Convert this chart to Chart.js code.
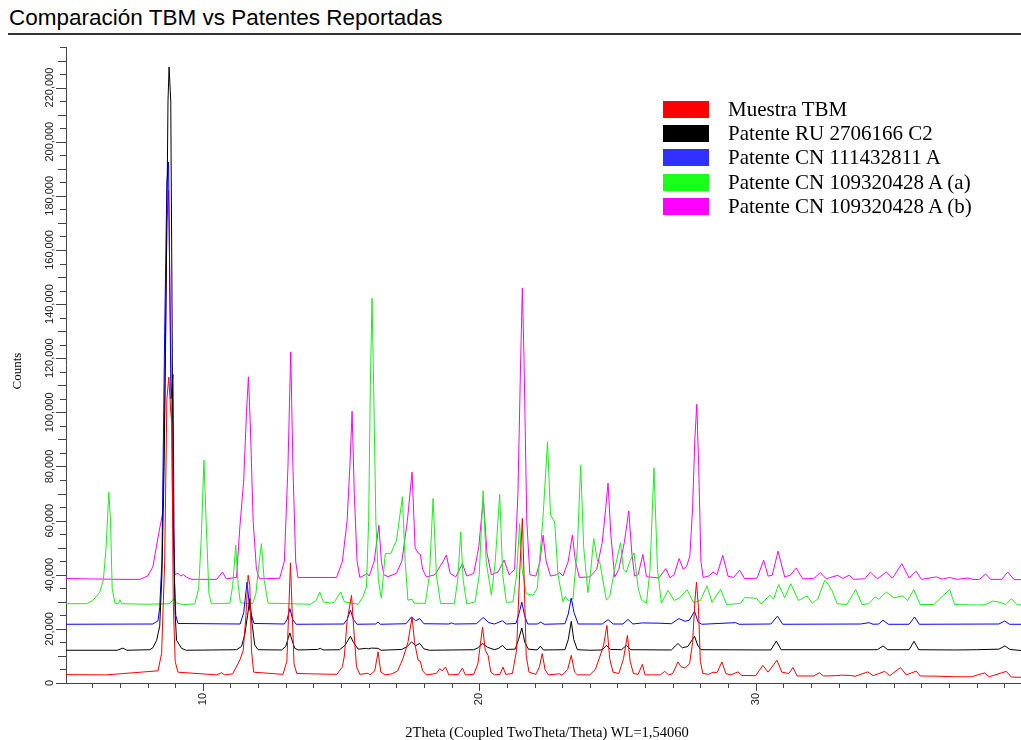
<!DOCTYPE html>
<html lang="es">
<head>
<meta charset="utf-8">
<title>Comparación TBM vs Patentes Reportadas</title>
<script src="https://cdn.jsdelivr.net/npm/chart.js@4.4.1/dist/chart.umd.min.js"></script>
<style>
  body { margin: 0; background: #fff; }
  #contenedor { position: relative; width: 1021px; height: 740px; overflow: hidden; }
  #titulo { position: absolute; left: 9px; top: 6px; font: 22.5px "Liberation Sans", Arial, sans-serif; line-height: 24px; color: #000; white-space: nowrap; }
  #linea { position: absolute; left: 8px; right: 0; top: 33px; height: 2px; background: #333; }
  canvas { position: absolute; left: 0; top: 0; }
  #leyenda { position: absolute; left: 663px; top: 97px; font: 21px "Liberation Serif", "Times New Roman", serif; color: #000; }
  .fila { display: flex; align-items: center; height: 24.4px; white-space: nowrap; }
  .caja { width: 46px; height: 17px; margin-right: 19px; }
</style>
</head>
<body>
<div id="contenedor">
  <div id="titulo">Comparación TBM vs Patentes Reportadas</div>
  <div id="linea"></div>
  <canvas id="grafico" width="1021" height="740"></canvas>
  <div id="leyenda"></div>
</div>
<script>
// Nombres de las series (orden de la leyenda)
const nombres = ['Muestra TBM', 'Patente RU 2706166 C2', 'Patente CN 111432811 A', 'Patente CN 109320428 A (a)', 'Patente CN 109320428 A (b)'];

// Ticks de los ejes
const etiquetasX = [10, 20, 30];
const etiquetasY = [0, 20000, 40000, 60000, 80000, 100000, 120000, 140000, 160000, 180000, 200000, 220000];

// Difractogramas [2Theta, Counts]
const muestraTBM = [
  [5.05, 3100], [6.5, 3000], [8.38, 4500], [8.51, 11000], [8.62, 45000], [8.70, 105000], [8.77, 113000], [8.84, 100000], [8.88, 96000], [8.93, 30000], [9.00, 8000], [9.10, 4000],
  [10.5, 3000], [10.68, 3800], [10.78, 3000],
  [11.08, 3400], [11.34, 8500], [11.46, 12000], [11.56, 25000], [11.64, 39800], [11.70, 36000], [11.76, 12000], [11.84, 4000],
  [12.9, 3200], [13.04, 8000], [13.12, 30000], [13.17, 44400], [13.22, 30000], [13.30, 7000], [13.40, 3500],
  [14.85, 3200], [15.05, 6000], [15.12, 10000], [15.22, 23000], [15.38, 32400], [15.46, 20000], [15.56, 6000], [15.68, 3200],
  [15.98, 3600], [16.05, 3000], [16.22, 4500], [16.34, 11500], [16.44, 4000],
  [16.60, 3000], [16.85, 3400], [17.05, 4500], [17.24, 9000], [17.42, 15000], [17.57, 24400], [17.66, 15000], [17.79, 8400], [17.87, 8000], [17.95, 4500], [18.09, 3000],
  [18.45, 3500], [18.57, 5300], [18.66, 4500], [18.78, 5900], [18.90, 3000],
  [19.25, 3200], [19.39, 5500], [19.50, 3000],
  [19.80, 3200], [19.95, 7000], [20.12, 20700], [20.22, 12000], [20.32, 10200], [20.42, 4000], [20.55, 3000],
  [20.75, 3200], [20.86, 5900], [20.96, 3200],
  [21.20, 3500], [21.35, 12000], [21.46, 40000], [21.56, 60800], [21.62, 40000], [21.70, 10000], [21.80, 4000],
  [22.05, 3200], [22.18, 6000], [22.28, 10900], [22.38, 5000], [22.50, 3000],
  [22.90, 3400], [23.00, 2900], [23.20, 5000], [23.33, 10200], [23.45, 4000], [23.55, 3000],
  [24.00, 3000], [24.20, 5000], [24.36, 9600], [24.50, 14000], [24.62, 21300], [24.72, 9000], [24.84, 4000],
  [25.05, 3500], [25.22, 9000], [25.36, 17600], [25.46, 8000], [25.58, 3500],
  [25.75, 3200], [25.90, 6900], [26.00, 3000],
  [26.55, 3000], [26.71, 4300], [26.85, 3000],
  [27.00, 3500], [27.19, 7800], [27.30, 6000], [27.45, 5500], [27.61, 7200], [27.72, 15000], [27.80, 30000], [27.86, 37300], [27.93, 28000], [28.00, 8000], [28.09, 3500],
  [28.30, 3200], [28.46, 4000], [28.60, 3800], [28.78, 7800], [28.92, 3500], [29.10, 3000],
  [29.36, 4100], [29.50, 2800],
  [30.00, 2700], [30.26, 6500], [30.45, 4000], [30.77, 8400], [30.95, 4000], [31.20, 3500], [31.35, 5700], [31.50, 2600],
  [32.10, 2600], [32.31, 3800], [32.45, 2600],
  [32.90, 2700], [33.10, 2900], [33.40, 2800], [33.60, 2500],
  [34.06, 4100], [34.25, 2700], [34.67, 4300], [34.85, 2700], [35.24, 5700], [35.45, 3000], [35.81, 4400], [35.95, 2600],
  [36.60, 2500], [37.20, 2300], [37.80, 2300], [38.28, 3700], [38.45, 2300], [39.07, 4300], [39.25, 2200], [39.60, 2100]
];

const patenteRU = [
  [5.05, 12100], [6.90, 12100], [7.11, 12900], [7.25, 12100],
  [8.08, 12300], [8.19, 13000], [8.33, 15800], [8.44, 21000], [8.52, 40000], [8.60, 80000], [8.68, 150000], [8.74, 215000], [8.78, 227600], [8.84, 215000], [8.88, 150000], [8.93, 60000], [9.00, 25000], [9.05, 15800], [9.23, 12800], [9.40, 12100],
  [11.22, 12300], [11.40, 13500], [11.52, 18000], [11.62, 25000], [11.70, 31200], [11.78, 22000], [11.88, 14000], [12.00, 12300],
  [12.85, 12200], [13.00, 13500], [13.10, 17000], [13.15, 18500], [13.22, 16000], [13.33, 12800], [13.45, 12200],
  [14.15, 12400], [14.25, 12800], [14.35, 12200],
  [14.95, 12300], [15.15, 14000], [15.34, 17300], [15.45, 15000], [15.62, 12500],
  [15.92, 12800], [15.98, 12600], [16.10, 12900], [16.34, 12800], [16.45, 12100],
  [17.20, 12400], [17.40, 13500], [17.55, 15200], [17.70, 13800], [17.85, 14600], [18.00, 12600], [18.20, 12100],
  [19.80, 12300], [19.95, 13000], [20.12, 14600], [20.30, 13200], [20.55, 12300], [20.70, 12800], [20.84, 13900], [20.98, 12400],
  [21.30, 12500], [21.42, 16000], [21.54, 20300], [21.65, 15000], [21.78, 12500],
  [22.10, 12200], [22.21, 13600], [22.32, 12200],
  [23.10, 12300], [23.22, 16000], [23.33, 22800], [23.42, 16000], [23.55, 12300],
  [24.00, 12100], [24.45, 12200], [24.60, 13900], [24.75, 12400], [25.15, 12300], [25.32, 13900], [25.48, 12300],
  [26.95, 12200], [27.19, 14600], [27.35, 13000], [27.55, 13500], [27.79, 17300], [27.90, 14000], [28.02, 12300],
  [30.55, 12200], [30.75, 15500], [30.92, 12300],
  [34.40, 12300], [34.61, 13700], [34.78, 12300], [35.55, 12300], [35.73, 15400], [35.90, 12300],
  [37.20, 12200], [38.00, 12300], [38.80, 12500], [39.02, 13700], [39.20, 12400], [39.60, 12000]
];

const patenteCN111 = [
  [5.05, 21700], [8.19, 21800], [8.38, 23000], [8.44, 28000], [8.52, 45000], [8.62, 130000], [8.70, 185000], [8.76, 192500], [8.81, 140000], [8.85, 105000], [8.92, 114000], [8.97, 40000], [9.02, 25000], [9.10, 22000],
  [11.35, 21800], [11.48, 26000], [11.60, 37300], [11.70, 27000], [11.85, 22000],
  [12.95, 21800], [13.05, 23500], [13.15, 27500], [13.25, 23500], [13.38, 21700],
  [15.10, 21800], [15.22, 23500], [15.34, 26900], [15.45, 23500], [15.58, 21700],
  [16.25, 21800], [16.34, 22500], [16.42, 21700],
  [17.35, 21900], [17.55, 24400], [17.70, 23000], [17.85, 23800], [18.00, 21900],
  [18.90, 21800], [19.00, 22200], [19.10, 21800],
  [19.90, 21900], [20.14, 24200], [20.35, 22300], [20.55, 21800], [20.84, 23000], [20.98, 21800],
  [21.33, 22000], [21.45, 26000], [21.54, 29900], [21.64, 25000], [21.75, 21800],
  [22.10, 21800], [22.22, 22500], [22.35, 21700],
  [23.10, 21900], [23.22, 25500], [23.33, 31400], [23.43, 26000], [23.58, 21800],
  [24.45, 21800], [24.66, 23400], [24.85, 21800], [25.20, 21800], [25.38, 23500], [25.56, 21800], [25.90, 22200], [26.50, 22100],
  [26.95, 21900], [27.22, 23800], [27.45, 22800], [27.60, 23200], [27.79, 26500], [27.92, 22500], [28.05, 21700],
  [29.28, 22300], [29.40, 21700],
  [30.55, 21800], [30.79, 24700], [30.98, 21700],
  [33.80, 21800], [34.10, 22300], [34.25, 21700], [34.45, 21800], [34.61, 23200], [34.80, 21700],
  [35.55, 21700], [35.75, 24400], [35.92, 21700],
  [38.80, 21800], [39.01, 22900], [39.18, 21700], [39.60, 21700]
];

const patenteCN109a = [
  [5.05, 29300], [5.80, 29300], [6.02, 30500], [6.15, 32000], [6.27, 33600], [6.40, 38000], [6.50, 50000], [6.60, 70500], [6.66, 60000], [6.72, 35000], [6.82, 29500], [6.95, 29400], [7.00, 30800], [7.06, 29300],
  [8.00, 29100], [8.80, 29300], [8.95, 31200], [9.05, 29500], [9.30, 29000],
  [9.71, 29200], [9.85, 35000], [9.95, 55000], [10.04, 82300], [10.12, 60000], [10.22, 33000], [10.31, 29300],
  [10.70, 29400], [10.98, 29500], [11.08, 36000], [11.19, 50900], [11.28, 36000], [11.36, 29600],
  [11.80, 29300], [11.92, 33000], [12.02, 43000], [12.12, 51500], [12.22, 38000], [12.36, 29500],
  [13.90, 29100], [14.10, 30500], [14.23, 33600], [14.36, 30000], [14.60, 29500], [14.75, 29800], [14.99, 33600], [15.12, 30000],
  [15.62, 29100], [15.80, 32000], [15.92, 35500], [16.00, 60000], [16.06, 110000], [16.12, 142200], [16.18, 110000], [16.26, 60000], [16.35, 38000], [16.46, 31300],
  [16.60, 47800], [16.80, 47800], [17.01, 52800], [17.22, 68800], [17.32, 45000], [17.42, 30600], [17.57, 31000], [17.65, 29500],
  [18.05, 29400], [18.20, 40000], [18.33, 68200], [18.45, 40000], [18.60, 29400],
  [19.10, 29300], [19.22, 38000], [19.33, 55800], [19.42, 38000], [19.55, 29200],
  [19.85, 30000], [20.00, 40000], [20.14, 71000], [20.25, 45000], [20.44, 32400], [20.58, 45000], [20.74, 69700], [20.85, 40000], [20.98, 29800],
  [21.22, 30000], [21.35, 40000], [21.46, 58900], [21.55, 42000], [21.70, 33000], [21.95, 32400], [22.10, 35000], [22.30, 60000], [22.47, 89100], [22.58, 62000], [22.73, 59500], [22.85, 40000], [23.03, 30000],
  [23.12, 32000], [23.22, 30500], [23.39, 31000], [23.55, 50000], [23.67, 80500], [23.78, 50000], [23.93, 33400], [24.02, 40000], [24.14, 53400], [24.28, 45000], [24.36, 44700],
  [24.60, 30600], [24.72, 32000], [24.90, 42000], [25.11, 51800], [25.22, 42000], [25.32, 41000], [25.45, 45000], [25.60, 48100], [25.75, 35000], [25.87, 30600],
  [26.05, 29500], [26.18, 42000], [26.32, 79500], [26.45, 42000], [26.59, 29500],
  [26.83, 34300], [27.05, 30500], [27.25, 31500], [27.52, 34500], [27.75, 29800], [28.00, 30500], [28.24, 35900], [28.42, 29800], [28.73, 34600], [28.95, 29000],
  [29.45, 29400], [29.60, 31600], [30.03, 31300], [30.20, 29200], [30.51, 32400], [30.65, 31000], [30.83, 36400], [31.05, 31500], [31.27, 36700], [31.55, 30500], [31.86, 32200], [32.05, 29500],
  [32.25, 31000], [32.50, 38000], [32.62, 36500], [32.76, 34200], [32.95, 29300], [33.30, 29000], [33.62, 34500], [33.85, 29000],
  [34.10, 29300], [34.32, 31800], [34.45, 31000], [34.73, 33600], [35.00, 31500], [35.33, 32200], [35.50, 30500], [35.72, 34500], [35.95, 29000],
  [36.45, 29000], [36.72, 31700], [37.02, 34500], [37.20, 29000],
  [38.00, 28800], [38.30, 28900], [38.58, 30300], [38.85, 29800], [39.05, 29000], [39.25, 31200], [39.45, 29000], [39.60, 28800]
];

const patenteCN109b = [
  [5.05, 38600], [7.00, 38300], [7.72, 38300], [8.00, 39500], [8.19, 42800], [8.40, 55000], [8.55, 63000], [8.62, 100000], [8.70, 170000], [8.76, 182100], [8.82, 140000], [8.90, 70000], [8.99, 40000],
  [9.10, 40600], [9.20, 39500], [9.30, 40000], [9.42, 39000], [9.60, 38300],
  [10.50, 38300], [10.71, 41000], [10.85, 38500],
  [11.22, 39000], [11.34, 57700], [11.48, 75000], [11.58, 100000], [11.65, 113100], [11.72, 95000], [11.82, 60000], [11.94, 42000], [12.05, 38500],
  [12.78, 38700], [12.95, 45000], [13.08, 80000], [13.18, 122300], [13.26, 80000], [13.36, 45000], [13.44, 39000],
  [14.84, 39000], [15.05, 45000], [15.22, 60000], [15.32, 80000], [15.40, 100400], [15.48, 70000], [15.58, 45000], [15.68, 39000],
  [15.88, 40000], [15.93, 40600], [16.02, 39500], [16.20, 45000], [16.37, 58300], [16.46, 45000], [16.55, 40000], [16.70, 39300],
  [17.00, 40500], [17.20, 45000], [17.40, 60000], [17.57, 77900], [17.68, 50000], [17.79, 48000], [17.87, 47600], [17.95, 42000], [18.09, 39200],
  [18.40, 40000], [18.57, 42900], [18.70, 45000], [18.81, 47300], [18.95, 40500], [19.15, 39200], [19.39, 44100], [19.55, 39500],
  [19.80, 40500], [19.98, 50000], [20.15, 68300], [20.28, 48000], [20.44, 40000], [20.68, 41000], [20.90, 45400], [21.08, 40000],
  [21.28, 42000], [21.40, 70000], [21.50, 120000], [21.56, 145900], [21.62, 120000], [21.72, 60000], [21.83, 40000],
  [22.05, 39500], [22.20, 45000], [22.31, 54600], [22.42, 45000], [22.58, 39500], [22.80, 40000], [22.91, 40800], [23.03, 39500],
  [23.22, 45000], [23.37, 54600], [23.48, 45000], [23.62, 39000], [24.00, 39200], [24.25, 42000], [24.45, 52000], [24.58, 65000], [24.66, 73900], [24.76, 55000], [24.90, 39200],
  [25.05, 42000], [25.25, 52000], [25.41, 63600], [25.52, 48000], [25.62, 39500], [25.75, 40000], [25.92, 47500], [26.05, 39300],
  [26.50, 38800], [26.75, 42300], [26.90, 38900], [27.05, 40000], [27.23, 46000], [27.38, 42000], [27.50, 43000], [27.62, 47000], [27.72, 65000], [27.80, 90000], [27.87, 103000], [27.94, 80000], [28.02, 45000], [28.10, 39000],
  [28.30, 39500], [28.46, 41000], [28.60, 40000], [28.81, 47200], [29.00, 39500], [29.20, 39000], [29.42, 41700], [29.60, 38600],
  [30.05, 38700], [30.29, 45400], [30.45, 39500], [30.60, 39800], [30.81, 48700], [31.05, 39200], [31.25, 39800], [31.47, 42500], [31.70, 38500],
  [32.10, 38600], [32.34, 40800], [32.55, 38500], [32.97, 39800], [33.15, 38600], [33.38, 39800], [33.55, 38300],
  [33.95, 38500], [34.15, 41000], [34.40, 38500], [34.73, 41000], [34.95, 38700], [35.29, 44100], [35.55, 38800], [35.81, 41300], [36.00, 38300],
  [36.53, 39200], [36.75, 38400], [37.02, 39000], [37.30, 38300], [37.68, 38800], [37.90, 38200],
  [38.10, 38300], [38.32, 40300], [38.50, 38300], [38.90, 38300], [39.12, 41000], [39.35, 38200], [39.60, 38200]
];

const series = [muestraTBM, patenteRU, patenteCN111, patenteCN109a, patenteCN109b];
const colores = ['#ff0000', '#000000', '#0000ff', '#19f019', '#ff00ff'];
const coloresLeyenda = ['#ff0000', '#000000', '#3030ff', '#1aff1a', '#ff00ff'];

// Leyenda en HTML
const leyenda = document.getElementById('leyenda');
nombres.forEach((nombre, i) => {
  const fila = document.createElement('div');
  fila.className = 'fila';
  fila.innerHTML = `<div class="caja" style="background:${coloresLeyenda[i]}"></div><span>${nombre}</span>`;
  leyenda.appendChild(fila);
});

// Ticks y etiquetas de los ejes dibujados a mano (rotados como en el original)
const ejes = {
  id: 'ejes',
  afterDraw(chart) {
    const { ctx, chartArea, scales: { x, y } } = chart;
    ctx.save();
    ctx.strokeStyle = '#444';
    ctx.fillStyle = '#222';
    ctx.lineWidth = 1;

    // ticks eje Y cada 5.000
    for (let v = 0; v <= y.max; v += 5000) {
      const py = Math.round(y.getPixelForValue(v)) + 0.5;
      const largo = v % 20000 === 0 ? 10 : (v % 10000 === 0 ? 8 : 6);
      ctx.beginPath();
      ctx.moveTo(chartArea.left - largo, py);
      ctx.lineTo(chartArea.left, py);
      ctx.stroke();
    }
    ctx.font = '11px "Liberation Sans", Arial, sans-serif';
    ctx.textAlign = 'center';
    ctx.textBaseline = 'middle';
    etiquetasY.forEach(v => {
      const py = y.getPixelForValue(v);
      ctx.save();
      ctx.translate(chartArea.left - 16, py);
      ctx.rotate(-Math.PI / 2);
      ctx.fillText(v.toLocaleString('en-US'), 0, 0);
      ctx.restore();
    });

    // ticks eje X cada 1 grado
    for (let v = Math.ceil(x.min); v <= x.max; v++) {
      const px = Math.round(x.getPixelForValue(v)) + 0.5;
      const largo = v % 10 === 0 ? 8 : 5;
      ctx.beginPath();
      ctx.moveTo(px, chartArea.bottom);
      ctx.lineTo(px, chartArea.bottom + largo);
      ctx.stroke();
    }
    ctx.textAlign = 'right';
    etiquetasX.forEach(v => {
      const px = x.getPixelForValue(v);
      ctx.save();
      ctx.translate(px, chartArea.bottom + 10);
      ctx.rotate(-Math.PI / 2);
      ctx.fillText(String(v), 0, 0);
      ctx.restore();
    });

    // títulos de los ejes
    ctx.fillStyle = '#000';
    ctx.font = '14.5px "Liberation Serif", "Times New Roman", serif';
    ctx.textAlign = 'center';
    ctx.textBaseline = 'alphabetic';
    ctx.fillText('2Theta (Coupled TwoTheta/Theta) WL=1,54060', 547, 737);
    ctx.font = '13px "Liberation Serif", "Times New Roman", serif';
    ctx.save();
    ctx.translate(21, 371);
    ctx.rotate(-Math.PI / 2);
    ctx.fillText('Counts', 0, 0);
    ctx.restore();
    ctx.restore();
  }
};

new Chart(document.getElementById('grafico'), {
  type: 'line',
  data: {
    datasets: series.map((datos, i) => ({
      label: nombres[i],
      data: datos,
      borderColor: colores[i],
      borderWidth: 1,
      pointRadius: 0,
      tension: 0,
      fill: false
    }))
  },
  options: {
    responsive: false,
    animation: false,
    layout: { padding: { left: 66, top: 47, right: 0, bottom: 57 } },
    plugins: { legend: { display: false }, tooltip: { enabled: false } },
    scales: {
      x: {
        type: 'linear', min: 5.05, max: 39.6,
        grid: { display: false, drawTicks: false },
        ticks: { display: false },
        border: { display: true, color: '#444', width: 1 }
      },
      y: {
        type: 'linear', min: 0, max: 235000,
        grid: { display: false, drawTicks: false },
        ticks: { display: false },
        border: { display: true, color: '#444', width: 1 }
      }
    }
  },
  plugins: [ejes]
});
</script>
</body>
</html>
